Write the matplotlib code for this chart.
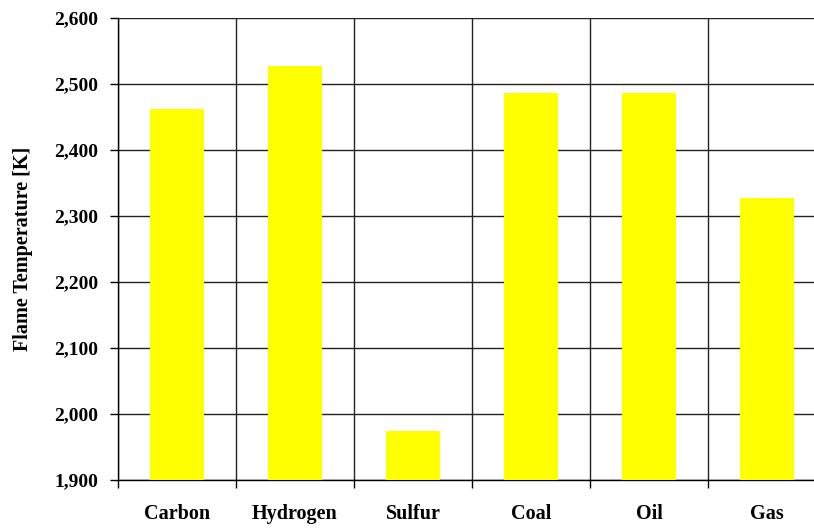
import numpy as np
import matplotlib.pyplot as plt
from matplotlib.ticker import FuncFormatter, FixedLocator

plt.rcParams['font.family'] = ['Liberation Serif', 'DejaVu Serif']

# 数据
fuels = ['Carbon', 'Hydrogen', 'Sulfur', 'Coal', 'Oil', 'Gas']
flame_temp = [2462, 2528, 1975, 2486, 2486, 2328]
y_ticks = [1900, 2000, 2100, 2200, 2300, 2400, 2500, 2600]

fig = plt.figure(figsize=(8.14, 5.29), dpi=100)
ax = fig.add_axes([118 / 814, 49 / 529, 708 / 814, 462 / 529])

x = np.arange(len(fuels))
ax.bar(x, flame_temp, width=0.45, color='#FFFF00', zorder=3)

ax.set_xlim(-0.5, len(fuels) - 0.5)
ax.set_ylim(1900, 2600)

# 网格线：横向每100，纵向在类别分界处
ax.set_yticks(y_ticks)
ax.yaxis.set_major_formatter(FuncFormatter(lambda v, p: f'{int(v):,}'))
ax.xaxis.set_major_locator(FixedLocator(np.arange(-0.5, len(fuels), 1.0)))
ax.xaxis.set_minor_locator(FixedLocator(x))
ax.set_xticklabels([], minor=False)
ax.set_xticklabels(fuels, minor=True, fontweight='bold', fontsize=14.5)
ax.grid(True, which='major', color='#222222', linewidth=1.0, zorder=1)
ax.set_axisbelow(True)

ax.tick_params(axis='x', which='major', direction='out', length=6, width=1, color='black')
ax.tick_params(axis='x', which='minor', length=0, pad=17)
ax.tick_params(axis='y', direction='out', length=6, width=1, pad=8, labelsize=14)
for lbl in ax.get_yticklabels():
    lbl.set_fontweight('bold')

for s in ['top', 'right']:
    ax.spines[s].set_visible(False)
ax.spines['left'].set_linewidth(1.0)
ax.spines['bottom'].set_linewidth(1.0)

ax.set_ylabel('Flame Temperature [K]', fontweight='bold', fontsize=14.5)
ax.yaxis.set_label_coords(-(118 - 33) / 708, 0.5)

fig.savefig('out.png', dpi=100)
